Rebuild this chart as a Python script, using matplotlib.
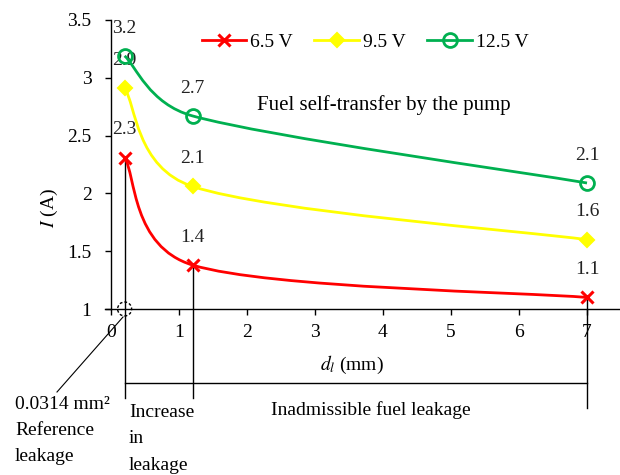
import numpy as np
import matplotlib
matplotlib.use("Agg")
import matplotlib.pyplot as plt
from matplotlib.path import Path
from matplotlib.patches import PathPatch, Ellipse

# ---- data ----
d_mm = [0.2, 1.2, 7.0]
series_names = ["6.5 V", "9.5 V", "12.5 V"]
current_65 = [2.31, 1.38, 1.10]
current_95 = [2.91, 2.06, 1.60]
current_125 = [3.19, 2.67, 2.09]
labels_65 = ["2.3", "1.4", "1.1"]
labels_95 = ["2.9", "2.1", "1.6"]
labels_125 = ["3.2", "2.7", "2.1"]
x_ticks = [0, 1, 2, 3, 4, 5, 6, 7]
y_ticks = [1, 1.5, 2, 2.5, 3, 3.5]
y_ticklabels = ["1", "1.5", "2", "2.5", "3", "3.5"]

plt.rcParams['font.family'] = ['Liberation Serif', 'DejaVu Serif']
plt.rcParams['mathtext.fontset'] = 'stix'
FS = 14

W, H = 620, 475
fig = plt.figure(figsize=(6.2, 4.75), dpi=100)
# pixel layout: x=0 at px 111, 68 px/unit ; y=1 at px 309, y=3.5 at px 20
x_left_px, x_right_px = 105, 620
y_top_px, y_bot_px = 20, 309
ax = fig.add_axes([x_left_px / W, 1 - y_bot_px / H,
                   (x_right_px - x_left_px) / W, (y_bot_px - y_top_px) / H])
xmin = -(111 - x_left_px) / 68.0
xmax = (x_right_px - 111) / 68.0
ax.set_xlim(xmin, xmax)
ax.set_ylim(1, 3.5)

for s in ['top', 'right']:
    ax.spines[s].set_visible(False)
ax.spines['left'].set_position(('data', 0))
ax.spines['left'].set_bounds(1, 3.5)
ax.spines['left'].set_linewidth(1.0)
ax.spines['bottom'].set_linewidth(1.0)
ax.set_xticks(x_ticks)
ax.set_yticks(y_ticks)
ax.set_yticklabels(y_ticklabels)
ax.tick_params(direction='out', length=4, width=1, labelsize=FS, pad=7)
ax.tick_params(axis='y', pad=10)


def smooth_path(xs, ys):
    """Excel-like smoothed line: Catmull-Rom Bezier computed in display space,
    with control arms limited to half the segment length."""
    tr = ax.transData
    pts = tr.transform(np.column_stack([xs, ys]).astype(float))
    n = len(pts)
    verts = [pts[0]]
    codes = [Path.MOVETO]

    def arm(tangent, seg_len):
        L = np.hypot(*tangent)
        lim = 0.5 * seg_len
        if L > lim and L > 0:
            tangent = tangent * lim / L
        return tangent

    for i in range(n - 1):
        p0 = pts[i - 1] if i > 0 else pts[i]
        p1 = pts[i]
        p2 = pts[i + 1]
        p3 = pts[i + 2] if i + 2 < n else pts[i + 1]
        seg = np.hypot(*(p2 - p1))
        c1 = p1 + arm((p2 - p0) / 6.0, seg)
        c2 = p2 - arm((p3 - p1) / 6.0, seg)
        verts += [c1, c2, p2]
        codes += [Path.CURVE4] * 3
    verts = tr.inverted().transform(np.array(verts))
    return Path(verts, codes)


specs = [
    (current_65, labels_65, '#FF0000', dict(marker='x', markersize=8.5, markeredgewidth=2.2)),
    (current_95, labels_95, '#FFFF00', dict(marker='D', markersize=7.5, markeredgewidth=1.5)),
    (current_125, labels_125, '#00B050', dict(marker='o', markersize=10, markeredgewidth=2.0,
                                             markerfacecolor='none')),
]
handles = []
for (vals, labs, col, mk), name in zip(specs, series_names):
    patch = PathPatch(smooth_path(d_mm, vals), facecolor='none', edgecolor=col,
                      lw=2.0, zorder=3)
    ax.add_patch(patch)
    h, = ax.plot(d_mm, vals, linestyle='none', color=col, markeredgecolor=col,
                 zorder=4, clip_on=False, **mk)
    lh, = ax.plot([], [], color=col, lw=2.0, markeredgecolor=col, **mk)
    handles.append(lh)
    for x, y, t in zip(d_mm, vals, labs):
        ax.annotate(t, (x, y), xytext=(0, 20), textcoords='offset points',
                    ha='center', va='center', fontsize=FS, color='#222222', zorder=2)

ax.legend(handles, series_names, loc='center', bbox_to_anchor=(0.505, 0.924),
          ncol=3, frameon=False, fontsize=FS, handlelength=2.3, handletextpad=0.2,
          columnspacing=1.1)

ax.text(257 / W, 1 - 105 / H, "Fuel self-transfer by the pump", transform=fig.transFigure,
        ha='left', va='center', fontsize=15)

ax.set_ylabel("$I$ (A)", fontsize=FS)
ax.yaxis.set_label_coords((60 - x_left_px) / (x_right_px - x_left_px),
                          (y_bot_px - 208) / (y_bot_px - y_top_px))
ax.set_xlabel("$d_l$ (mm)", fontsize=FS)
ax.xaxis.set_label_coords((352 - x_left_px) / (x_right_px - x_left_px),
                          (y_bot_px - 354) / (y_bot_px - y_top_px))


def py(p):  # pixel row -> data y
    return 1 + (y_bot_px - p) / 115.6


def px(p):  # pixel col -> data x
    return (p - 111) / 68.0


# annotation lines below the axis
ends = [py(398), py(398), py(408)]
for x, y0, y1 in zip(d_mm, current_65, ends):
    ax.plot([x, x], [y0, y1], color='black', lw=1.0, clip_on=False, zorder=2)
ax.plot([d_mm[0], d_mm[-1]], [py(383), py(383)], color='black', lw=1.0, clip_on=False)
ax.add_patch(Ellipse((d_mm[0], 1), 14 / 68.0, 14 / 115.6, facecolor='none',
                     edgecolor='black', lw=1.0, linestyle=(0, (2, 1.5)), clip_on=False,
                     zorder=5))
ax.plot([px(123), px(57)], [py(317), py(392)], color='black', lw=0.8, clip_on=False)

fig.text(15 / W, 1 - 396 / H, "0.0314 mm²\nReference\nleakage", ha='left', va='top',
         fontsize=FS, linespacing=1.68)
fig.text(129 / W, 1 - 404 / H, "Increase\nin\nleakage", ha='left', va='top',
         fontsize=FS, linespacing=1.72)
fig.text(371 / W, 1 - 410 / H, "Inadmissible fuel leakage", ha='center', va='center',
         fontsize=FS)

fig.savefig("out.png", dpi=100)
